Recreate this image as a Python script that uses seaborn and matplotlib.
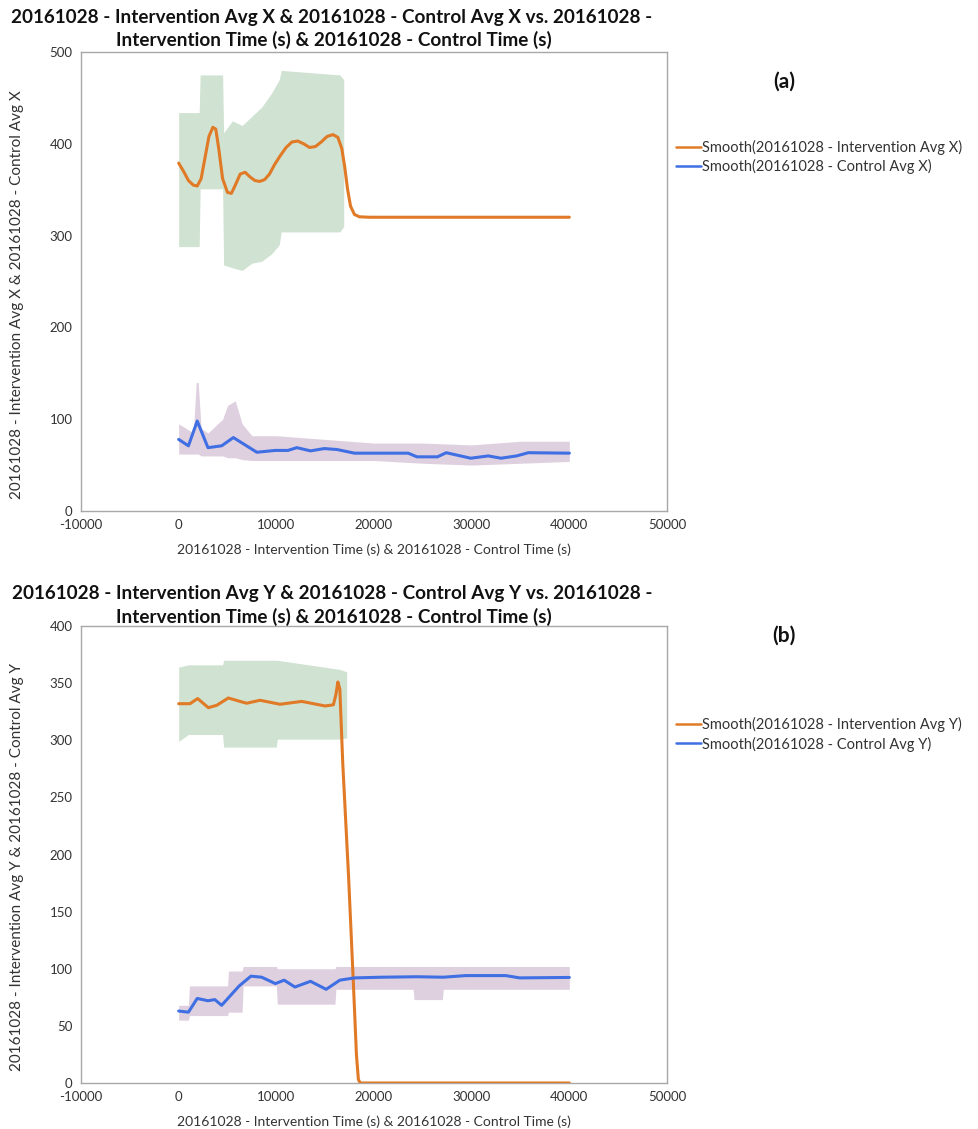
import numpy as np
import pandas as pd
import matplotlib
matplotlib.use("Agg")
import matplotlib.pyplot as plt
import seaborn as sns

sns.set_theme(style="white")
plt.rcParams['font.family'] = ['Lato', 'DejaVu Sans']
plt.rcParams['axes.unicode_minus'] = False

# ---------------- Data ----------------
# Panel (a): smooth of Intervention Avg X
int_x_t = [0, 500, 1000, 1500, 1900, 2300, 2700, 3100, 3500, 3800, 4100, 4500, 5000, 5400,
           5800, 6300, 6800, 7300, 7800, 8300, 8800, 9300, 9800, 10400, 11000, 11600, 12200,
           12800, 13400, 14000, 14600, 15200, 15800, 16300, 16700, 17000, 17300, 17600,
           18000, 18500, 19500, 40000]
int_x_v = [379, 370, 360, 355, 354, 362, 385, 408, 418, 416, 395, 362, 347, 346,
           355, 367, 369, 364, 360, 359, 361, 367, 377, 387, 396, 402, 403,
           400, 396, 397, 402, 408, 410, 407, 395, 375, 350, 332,
           323, 320.5, 320, 320]
# Panel (a): smooth of Control Avg X
ctl_x_t = [0, 1000, 1900, 3000, 4400, 5600, 8000, 9900, 11200, 12100, 13500, 14900, 16200,
           18000, 23500, 24400, 26500, 27400, 29900, 31700, 33000, 34600, 35800, 40000]
ctl_x_v = [78, 71, 98, 69, 71, 80, 64, 66, 66, 69, 65.5, 68, 67,
           63, 63, 59, 59, 63.5, 57.5, 60, 57.5, 60, 63.5, 63]
# Panel (a): raw point clouds (band extents)
int_x_band_t = [0, 2100, 2200, 4500, 4600, 5500, 6500, 7500, 8500, 9500, 10300, 10500,
                16500, 16900]
int_x_band_hi = [434, 434, 475, 475, 412, 425, 420, 430, 440, 455, 470, 480, 475, 470]
int_x_band_lo = [288, 288, 351, 351, 268, 265, 262, 270, 272, 280, 290, 304, 304, 310]
ctl_x_band_t = [0, 1500, 1800, 2000, 2300, 3000, 4500, 5000, 5800, 6500, 7500, 10000,
                15000, 20000, 25000, 30000, 35000, 40000]
ctl_x_band_hi = [95, 85, 140, 140, 90, 85, 100, 115, 120, 95, 82, 82, 78, 74, 74, 72, 76, 76]
ctl_x_band_lo = [62, 62, 62, 62, 60, 60, 60, 58, 58, 56, 55, 55, 55, 55, 52, 50, 52, 54]

# Panel (b): smooth of Intervention Avg Y
int_y_t = [0, 1160, 1945, 3040, 3900, 5085, 6280, 6960, 8330, 10380, 12600, 13800, 15000,
           15840, 16100, 16300, 16500, 16800, 17400, 17900, 18200, 18400, 18600, 40000]
int_y_v = [332, 332, 336.5, 328.5, 330.6, 337, 334, 332.4, 335, 331.5, 334, 332, 330,
           331, 340, 351, 345, 280, 180, 85, 25, 3, 0, 0]
# Panel (b): smooth of Control Avg Y
ctl_y_t = [0, 1000, 1900, 3000, 3700, 4400, 6200, 7400, 8500, 9900, 10800, 11900, 13500,
           15100, 16500, 18000, 20800, 24400, 27100, 29400, 33500, 34900, 40000]
ctl_y_v = [63, 62, 74, 72, 73, 68, 85, 93.5, 92.6, 87, 90, 84, 89,
           82, 90, 92, 92.6, 93, 92.6, 94, 94, 92, 92.4]
# Panel (b): raw point clouds (band extents)
int_y_band_t = [0, 1000, 4500, 4600, 10000, 10100, 16500, 17200]
int_y_band_hi = [364, 366, 366, 370, 370, 370, 362, 360]
int_y_band_lo = [299, 305, 305, 294, 294, 301, 301, 302]
ctl_y_band_t = [0, 1000, 1100, 5000, 5100, 6500, 6600, 10000, 10100, 16000, 16100,
                24000, 24100, 27000, 27100, 40000]
ctl_y_band_hi = [68, 68, 85, 85, 98, 98, 102, 102, 100, 100, 102, 102, 102, 102, 102, 102]
ctl_y_band_lo = [55, 55, 59, 59, 62, 62, 85, 85, 69, 69, 82, 82, 73, 73, 82, 82]

x_ticks = [-10000, 0, 10000, 20000, 30000, 40000, 50000]

title_a = ["20161028 - Intervention Avg X & 20161028 - Control Avg X vs. 20161028 -",
           "Intervention Time (s) & 20161028 - Control Time (s)"]
title_b = ["20161028 - Intervention Avg Y & 20161028 - Control Avg Y vs. 20161028 -",
           "Intervention Time (s) & 20161028 - Control Time (s)"]
xlabel = "20161028 - Intervention Time (s) & 20161028 - Control Time (s)"
ylabel_a = "20161028 - Intervention Avg X & 20161028 - Control Avg X"
ylabel_b = "20161028 - Intervention Avg Y & 20161028 - Control Avg Y"
leg_a = ["Smooth(20161028 - Intervention Avg X)", "Smooth(20161028 - Control Avg X)"]
leg_b = ["Smooth(20161028 - Intervention Avg Y)", "Smooth(20161028 - Control Avg Y)"]

# ---------------- Styles ----------------
ORANGE = "#E07A26"
BLUE = "#3F6FE3"
GREEN = "#D0E2D1"
PURPLE = "#DFD0E0"
FRAME = "#A8A8A8"
TXT = "#333333"

W, H = 979, 1129
fig = plt.figure(figsize=(W / 100, H / 100), dpi=100)


def fx(px):
    return px / W


def fy(py):
    return 1 - py / H


def panel(top, bottom, ymax, yticks, int_t, int_v, ctl_t, ctl_v,
          ib_t, ib_lo, ib_hi, cb_t, cb_lo, cb_hi, title, ylab, leg, tag, title_y, ylab_y):
    ax = fig.add_axes([fx(81), fy(bottom), fx(667) - fx(81), fy(top) - fy(bottom)])
    ax.fill_between(ib_t, ib_lo, ib_hi, color=GREEN, lw=0, zorder=1)
    ax.fill_between(cb_t, cb_lo, cb_hi, color=PURPLE, lw=0, zorder=1)
    df = pd.DataFrame({
        "t": list(int_t) + list(ctl_t),
        "v": list(int_v) + list(ctl_v),
        "s": [leg[0]] * len(int_t) + [leg[1]] * len(ctl_t),
    })
    sns.lineplot(data=df, x="t", y="v", hue="s", palette=[ORANGE, BLUE],
                 ax=ax, lw=2.2, sort=False, estimator=None, zorder=3)
    ax.set_xlim(-10000, 50000)
    ax.set_ylim(0, ymax)
    ax.set_xticks(x_ticks)
    ax.set_yticks(yticks)
    ax.tick_params(axis="both", labelsize=9.5, colors=TXT, length=4, width=0.8,
                   direction="out", pad=2)
    ax.tick_params(axis="both", color=FRAME)
    for sp in ax.spines.values():
        sp.set_color(FRAME)
        sp.set_linewidth(1.0)
    ax.set_xlabel(xlabel, fontsize=10, color=TXT, labelpad=9)
    ax.set_ylabel(ylab, fontsize=11, color=TXT)
    ax.yaxis.set_label_coords((24 - 81) / 586, ylab_y)
    handles, labels = ax.get_legend_handles_labels()
    ax.legend(handles, labels, loc="upper left", frameon=False, fontsize=10.5,
              bbox_to_anchor=(fx(676), fy(tag[2])), bbox_transform=fig.transFigure,
              handlelength=1.7, handletextpad=0.1, labelspacing=0.3, borderaxespad=0,
              borderpad=0)
    for lh in ax.get_legend().get_lines():
        lh.set_linewidth(1.8)
    for t in ax.get_legend().get_texts():
        t.set_color(TXT)
    fig.text(fx(332), fy(title_y[0]), title[0], ha="center", va="center",
             fontsize=13.6, fontweight="bold", color="#111111")
    fig.text(fx(334), fy(title_y[1]), title[1], ha="center", va="center",
             fontsize=13.6, fontweight="bold", color="#111111")
    fig.text(fx(784), fy(tag[1]), tag[0], ha="center", va="center",
             fontsize=15, fontweight="bold", color="#111111")
    return ax


panel(52, 511, 500, [0, 100, 200, 300, 400, 500], int_x_t, int_x_v, ctl_x_t, ctl_x_v,
      int_x_band_t, int_x_band_lo, int_x_band_hi, ctl_x_band_t, ctl_x_band_lo, ctl_x_band_hi,
      title_a, ylabel_a, leg_a, ("(a)", 82, 140), (17, 40), 0.4706)
panel(626, 1083, 400, [0, 50, 100, 150, 200, 250, 300, 350, 400], int_y_t, int_y_v,
      ctl_y_t, ctl_y_v, int_y_band_t, int_y_band_lo, int_y_band_hi,
      ctl_y_band_t, ctl_y_band_lo, ctl_y_band_hi,
      title_b, ylabel_b, leg_b, ("(b)", 636, 717), (594, 617), 0.4726)

fig.savefig("out.png", dpi=100)
